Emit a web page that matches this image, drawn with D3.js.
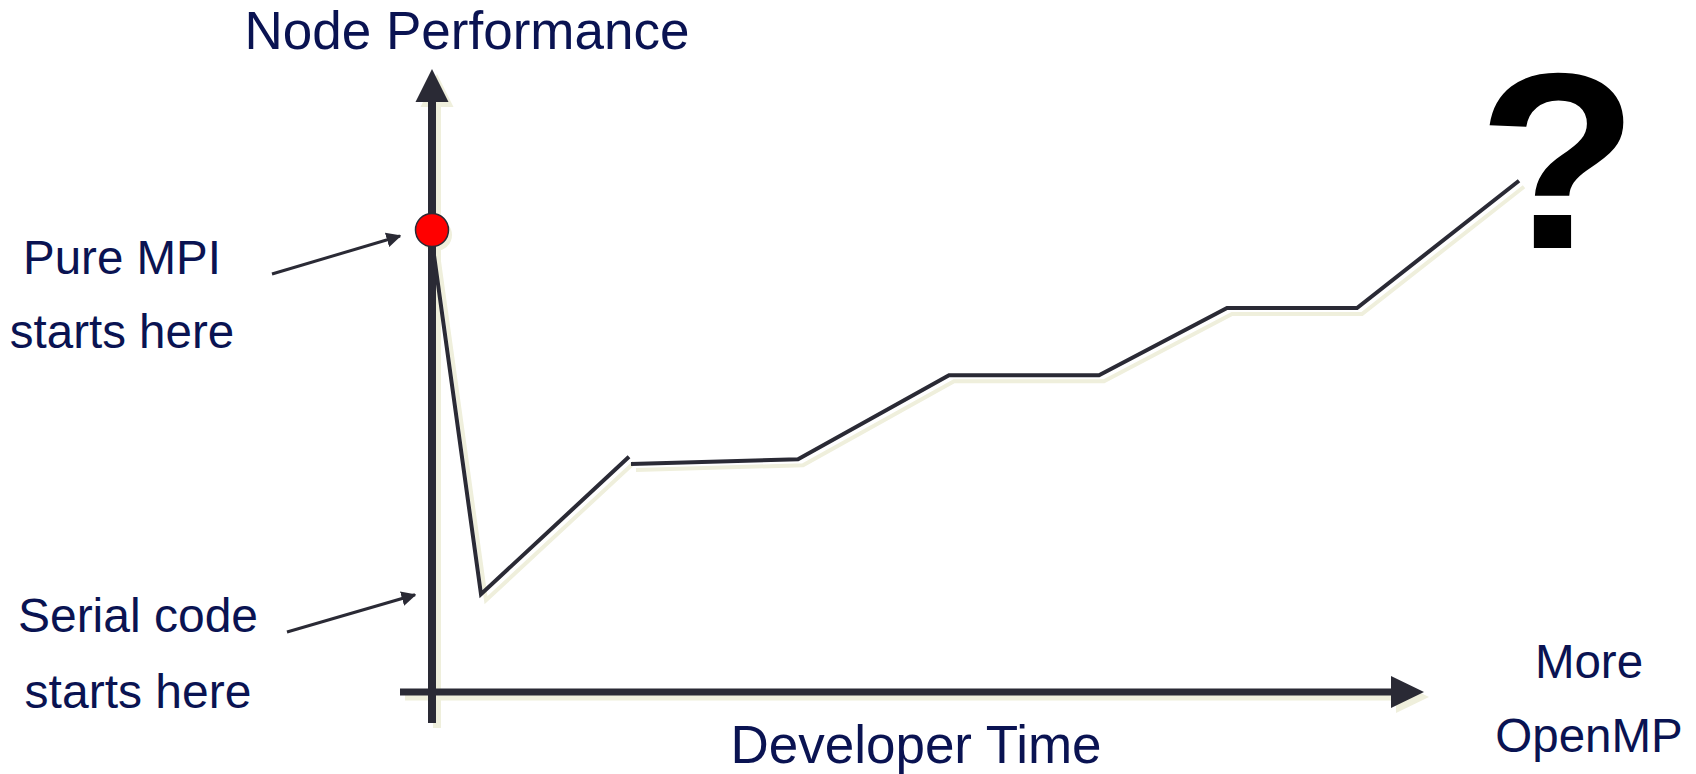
<!DOCTYPE html>
<html lang="en">
  <head>
    <meta charset="utf-8">
    <title>Node Performance vs Developer Time</title>
    <script src="https://d3js.org/d3.v7.min.js"></script>
    <style type="text/css">
      body { margin: 0; background: #fff; }
      svg { width: 1696px; height: 774px; display: block; }
      .lbl { font-family: "Liberation Sans", Arial, sans-serif; fill: #0a1352; }
    </style>
  </head>
  <body>
    <svg></svg>
    <script type="text/javascript">

    // developer time (arbitrary units) vs node performance (arbitrary units)
    // first pass: pure MPI start, drop to serial level, climb back
    const phase1Time = [0.01, 0.49, 1.97];
    const phase1Perf = [7.40, 1.63, 3.92];
    // then more and more OpenMP added, step by step
    const phase2Time = [1.99, 3.66, 5.17, 6.67, 7.95, 9.25, 10.87];
    const phase2Perf = [3.80, 3.88, 5.28, 5.28, 6.40, 6.40, 8.52];

    const startPoint = {t: 0, p: 7.7};   // red dot: "Pure MPI starts here"
    const serialPoint = {t: 0, p: 1.62}; // "Serial code starts here"

    const titleY = "Node Performance";
    const titleX = "Developer Time";
    const mpiLabel = ["Pure MPI", "starts here"];
    const serialLabel = ["Serial code", "starts here"];
    const endLabel = ["More", "OpenMP"];

    const ink = "#2a2a35";
    const shade = "#efefdc";

    const x = d3.scaleLinear().domain([0, 11]).range([432, 1532]);
    const y = d3.scaleLinear().domain([0, 10]).range([692, 92]);

    const svg = d3.select("svg");

    const defs = svg.append("defs");
    defs.append("marker")
        .attr("id", "tip")
        .attr("viewBox", "0 0 10 10")
        .attr("refX", 9).attr("refY", 5)
        .attr("markerWidth", 5).attr("markerHeight", 5)
        .attr("markerUnits", "strokeWidth")
        .attr("orient", "auto")
      .append("path")
        .attr("d", "M0,0 L10,5 L0,10 z")
        .attr("fill", ink);

    const zip = (ts, ps) => ts.map((t, i) => [t, ps[i]]);
    const line = d3.line().x(d => x(d[0])).y(d => y(d[1]));
    const paths = [zip(phase1Time, phase1Perf), zip(phase2Time, phase2Perf)];

    // axis geometry
    const x0 = x(0), y0 = y(0);
    const yTop = 69, xEnd = 1424, head = 33;

    function axes(g, color, dx, dy) {
      g.append("line")
        .attr("x1", x0 + dx).attr("x2", x0 + dx)
        .attr("y1", yTop + head + dy).attr("y2", y0 + 31 + dy)
        .attr("stroke", color).attr("stroke-width", 8);
      g.append("line")
        .attr("x1", x0 - 32 + dx).attr("x2", xEnd - head + dx)
        .attr("y1", y0 + dy).attr("y2", y0 + dy)
        .attr("stroke", color).attr("stroke-width", 7);
      g.append("path")
        .attr("d", `M${x0 + dx},${yTop + dy} L${x0 + 16.5 + dx},${yTop + head + dy} L${x0 - 16.5 + dx},${yTop + head + dy} Z`)
        .attr("fill", color);
      g.append("path")
        .attr("d", `M${xEnd + dx},${y0 + dy} L${xEnd - head + dx},${y0 - 16 + dy} L${xEnd - head + dx},${y0 + 16 + dy} Z`)
        .attr("fill", color);
    }

    // shadows first
    const sh = svg.append("g");
    axes(sh, shade, 5, 5);
    sh.selectAll("path.s")
      .data(paths).enter().append("path")
      .attr("class", "s")
      .attr("d", line)
      .attr("transform", "translate(5,6)")
      .attr("fill", "none")
      .attr("stroke", shade)
      .attr("stroke-width", 4);
    sh.append("circle")
      .attr("cx", x(startPoint.t) + 4).attr("cy", y(startPoint.p) + 5)
      .attr("r", 16).attr("fill", shade);

    // main marks
    const main = svg.append("g");
    axes(main, ink, 0, 0);
    main.selectAll("path.l")
      .data(paths).enter().append("path")
      .attr("class", "l")
      .attr("d", line)
      .attr("fill", "none")
      .attr("stroke", ink)
      .attr("stroke-width", 4)
      .attr("stroke-linejoin", "miter");
    main.append("circle")
      .attr("cx", x(startPoint.t)).attr("cy", y(startPoint.p))
      .attr("r", 16.5)
      .attr("fill", "#ff0000")
      .attr("stroke", ink)
      .attr("stroke-width", 1.5);

    // annotation arrows
    svg.append("line")
      .attr("x1", 272).attr("y1", 274)
      .attr("x2", x(startPoint.t) - 32).attr("y2", y(startPoint.p) + 6)
      .attr("stroke", ink).attr("stroke-width", 3)
      .attr("marker-end", "url(#tip)");
    svg.append("line")
      .attr("x1", 287).attr("y1", 632)
      .attr("x2", x(serialPoint.t) - 17).attr("y2", y(serialPoint.p))
      .attr("stroke", ink).attr("stroke-width", 3)
      .attr("marker-end", "url(#tip)");

    // texts
    svg.append("text").attr("class", "lbl")
      .attr("x", 467).attr("y", 49)
      .attr("text-anchor", "middle")
      .attr("font-size", "53px")
      .text(titleY);

    svg.append("text").attr("class", "lbl")
      .attr("x", 916).attr("y", 763)
      .attr("text-anchor", "middle")
      .attr("font-size", "53px")
      .text(titleX);

    svg.selectAll("text.mpi")
      .data(mpiLabel).enter().append("text")
      .attr("class", "lbl mpi")
      .attr("x", 122).attr("y", (d, i) => 274 + i * 74)
      .attr("text-anchor", "middle")
      .attr("font-size", "47.5px")
      .text(d => d);

    svg.selectAll("text.ser")
      .data(serialLabel).enter().append("text")
      .attr("class", "lbl ser")
      .attr("x", 138).attr("y", (d, i) => 632 + i * 76)
      .attr("text-anchor", "middle")
      .attr("font-size", "48px")
      .text(d => d);

    svg.selectAll("text.end")
      .data(endLabel).enter().append("text")
      .attr("class", "lbl end")
      .attr("x", 1589).attr("y", (d, i) => 678 + i * 74)
      .attr("text-anchor", "middle")
      .attr("font-size", "47.5px")
      .text(d => d);

    svg.append("text")
      .attr("transform", "translate(1558,248) scale(1.05,1)")
      .attr("text-anchor", "middle")
      .attr("font-family", "\"Liberation Sans\", Arial, sans-serif")
      .attr("font-weight", "bold")
      .attr("font-size", "251px")
      .attr("fill", "#000")
      .text("?");

    </script>
  </body>
</html>
